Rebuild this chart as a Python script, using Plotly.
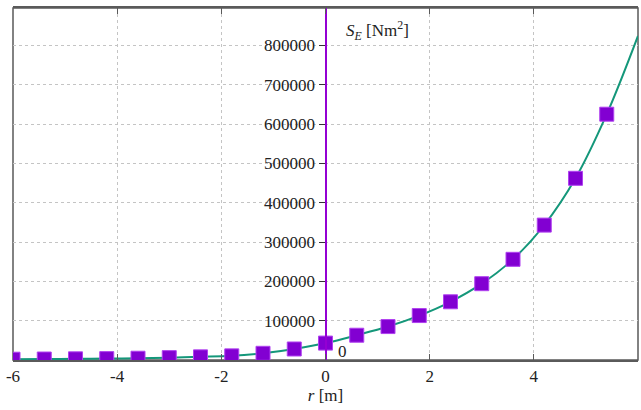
import plotly.graph_objects as go

# Data
r_points = [-6.0, -5.4, -4.8, -4.2, -3.6, -3.0, -2.4, -1.8, -1.2, -0.6,
            0.0, 0.6, 1.2, 1.8, 2.4, 3.0, 3.6, 4.2, 4.8, 5.4]
se_points = [2000, 2500, 3000, 3500, 4500, 6000, 8000, 10500, 17000, 28000,
             43000, 63000, 85000, 113000, 148000, 194000, 256000, 343000, 462000, 625000]
r_curve = r_points + [6.0]
se_curve = se_points + [824000]

x_ticks = [-6, -4, -2, 0, 2, 4, 6]
y_ticks = [100000, 200000, 300000, 400000, 500000, 600000, 700000, 800000]

FONT = "Liberation Serif, Times New Roman, serif"
PURPLE = "#9400d3"
TEAL = "#14977a"
GRID = "#c4c4c4"
FRAME = "#5a5a5a"

fig = go.Figure()
fig.add_trace(go.Scatter(
    x=r_curve, y=se_curve, mode="lines",
    line=dict(color=TEAL, width=2, shape="spline", smoothing=1.0),
    showlegend=False, hoverinfo="skip"))
fig.add_trace(go.Scatter(
    x=r_points, y=se_points, mode="markers",
    marker=dict(symbol="square", size=14, color="#8200d2",
                line=dict(color="#b040f0", width=1)),
    showlegend=False))

fig.add_shape(type="rect", xref="paper", yref="paper", x0=0, x1=1, y0=0, y1=1,
              line=dict(color=FRAME, width=1.5), layer="below")

fig.add_annotation(x=0.33, y=22000, xref="x", yref="y", text="0", showarrow=False,
                   font=dict(family=FONT, size=17, color="#222"), xanchor="center", yanchor="middle")
fig.add_annotation(x=0.35, y=0.935, xref="x", yref="paper",
                   text="<i>S</i><sub><i>E</i></sub> [Nm<sup>2</sup>]", showarrow=False,
                   font=dict(family=FONT, size=17, color="#222"), xanchor="left", yanchor="middle")

fig.update_layout(
    width=641, height=410,
    margin=dict(l=13, r=3, t=8, b=50),
    paper_bgcolor="white", plot_bgcolor="white",
    font=dict(family=FONT, size=17, color="#222"),
    xaxis=dict(range=[-6, 6], tickvals=x_ticks, ticktext=[str(v) for v in x_ticks],
               showgrid=True, gridcolor=GRID, griddash="dot", gridwidth=1,
               zeroline=False, showline=True, linecolor=FRAME, linewidth=1.5,
               mirror="ticks", ticks="inside", ticklen=6, tickcolor=FRAME,
               tickfont=dict(family=FONT, size=17),
               title=dict(text="<i>r</i> [m]", standoff=2, font=dict(family=FONT, size=17))),
    yaxis=dict(range=[0, 895000], tickvals=y_ticks, ticktext=[str(v) for v in y_ticks],
               anchor="free", position=0.5,
               showgrid=True, gridcolor=GRID, griddash="dot", gridwidth=1,
               zeroline=False, showline=True, linecolor=PURPLE, linewidth=2,
               ticks="outside", ticklen=6, tickcolor="#333",
               tickfont=dict(family=FONT, size=17)),
)

fig.write_html("out.html")
